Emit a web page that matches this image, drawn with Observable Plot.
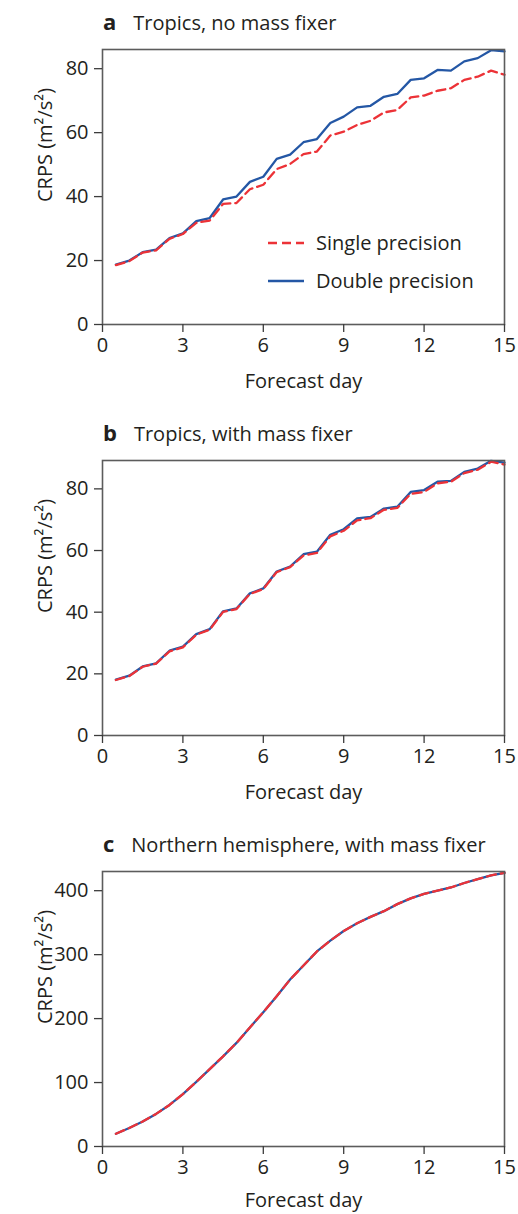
<!DOCTYPE html>
<html>
<head>
<meta charset="utf-8">
<script src="https://cdn.jsdelivr.net/npm/d3@7"></script>
<script src="https://cdn.jsdelivr.net/npm/@observablehq/plot@0.6"></script>
<style>
  body { margin: 0; background: #fff; font-family: "Open Sans", sans-serif; color: #231f20; }
  .panel { position: relative; width: 518px; height: 411px; overflow: visible; }
  .panel:last-child { height: 392px; }
  .title { position: absolute; left: 103px; top: 11px; font-size: 20px; line-height: 20px; white-space: nowrap; }
  .title b { font-size: 22px; margin-right: 17px; }
  .plot { position: absolute; left: 0; top: 36px; }
  .legend { position: absolute; left: 260px; top: 224px; }
</style>
</head>
<body>
<div id="chart"></div>
<script>
// Forecast lead times (days)
const days = [0.5, 1, 1.5, 2, 2.5, 3, 3.5, 4, 4.5, 5, 5.5, 6, 6.5, 7, 7.5, 8,
              8.5, 9, 9.5, 10, 10.5, 11, 11.5, 12, 12.5, 13, 13.5, 14, 14.5, 15];
const xTicks = [0, 3, 6, 9, 12, 15];

// a: Tropics, no mass fixer
const tropicsNoFixerSingle = [18.6, 19.8, 22.5, 23.2, 26.8, 28.3, 31.8, 32.5, 37.7, 38.0,
  42.3, 43.7, 48.6, 50.2, 53.3, 54.1, 59.1, 60.3, 62.4, 63.7,
  66.3, 67.1, 71.0, 71.6, 73.1, 73.9, 76.5, 77.5, 79.4, 78.1];
const tropicsNoFixerDouble = [18.75, 20.0, 22.6, 23.4, 27.0, 28.5, 32.3, 33.3, 39.1, 40.0,
  44.6, 46.2, 51.8, 53.1, 57.0, 58.0, 63.0, 65.0, 67.9, 68.4,
  71.2, 72.1, 76.5, 77.0, 79.6, 79.4, 82.3, 83.3, 85.8, 85.4];

// b: Tropics, with mass fixer
const tropicsFixerSingle = [18.0, 19.3, 22.3, 23.3, 27.3, 28.6, 32.7, 34.3, 40.1, 41.0,
  45.9, 47.5, 53.0, 54.6, 58.4, 59.2, 64.6, 66.4, 69.8, 70.5,
  73.2, 73.8, 78.4, 79.0, 81.8, 82.3, 85.1, 86.2, 88.8, 87.9];
const tropicsFixerDouble = [18.1, 19.4, 22.4, 23.4, 27.5, 28.8, 32.9, 34.5, 40.3, 41.2,
  46.1, 47.7, 53.2, 54.8, 58.8, 59.6, 65.1, 66.9, 70.4, 70.9,
  73.6, 74.2, 79.0, 79.6, 82.3, 82.6, 85.5, 86.6, 89.1, 88.5];

// c: Northern hemisphere, with mass fixer
const nhFixerSingle = [20, 29, 39, 51, 65, 82, 101, 121, 141, 162,
  186, 210, 235, 261, 283, 305, 322, 337, 349, 359,
  368, 379, 388, 395, 400, 405, 412, 418, 424, 428];
const nhFixerDouble = [20, 29, 39, 51, 65, 82, 101, 121, 141, 162,
  186, 210, 235, 261, 283, 305, 322, 337, 349, 359,
  368, 379, 388, 395, 400, 405, 412, 418, 424, 428];

const seriesNames = ["Single precision", "Double precision"];
const xLabel = "Forecast day";
const yLabel = "CRPS (m²/s²)";

const BLUE = "#2457a5";
const RED = "#ec3237";
const INK = "#231f20";
const FONT = "Open Sans, sans-serif";

const panels = [
  {letter: "a", title: "Tropics, no mass fixer", single: tropicsNoFixerSingle, double: tropicsNoFixerDouble,
   yMax: 86, yTicks: [0, 20, 40, 60, 80], legend: true, labelDy: 57},
  {letter: "b", title: "Tropics, with mass fixer", single: tropicsFixerSingle, double: tropicsFixerDouble,
   yMax: 89.2, yTicks: [0, 20, 40, 60, 80], legend: false, labelDy: 57},
  {letter: "c", title: "Northern hemisphere, with mass fixer", single: nhFixerSingle, double: nhFixerDouble,
   yMax: 430, yTicks: [0, 100, 200, 300, 400], legend: false, labelDy: 54}
];

const root = document.getElementById("chart");

for (const p of panels) {
  const div = document.createElement("div");
  div.className = "panel";

  const title = document.createElement("div");
  title.className = "title";
  title.innerHTML = `<b>${p.letter}</b>${p.title}`;
  div.appendChild(title);

  const rows = days.map((d, i) => ({day: d, single: p.single[i], double: p.double[i]}));

  const chart = Plot.plot({
    width: 518,
    height: 339,
    marginLeft: 102,
    marginRight: 14,
    marginTop: 13,
    marginBottom: 51,
    style: {fontFamily: FONT, fontSize: "20px", color: INK, background: "transparent", overflow: "visible"},
    x: {domain: [0, 15]},
    y: {domain: [0, p.yMax]},
    marks: [
      Plot.line(rows, {x: "day", y: "double", stroke: BLUE, strokeWidth: 2.3}),
      Plot.line(rows, {x: "day", y: "single", stroke: RED, strokeWidth: 2.3, strokeDasharray: "9,5"}),
      Plot.frame({stroke: "#5c5c5c", strokeWidth: 1.6}),
      Plot.axisX({ticks: xTicks, tickSize: 8, tickPadding: 5, label: null, stroke: "#3c3c3c",
                  strokeWidth: 1.3, fill: INK, fontSize: 20}),
      Plot.axisY({ticks: p.yTicks, tickSize: 8, tickPadding: 6, label: null, stroke: "#3c3c3c",
                  strokeWidth: 1.3, fill: INK, fontSize: 20}),
      Plot.text([xLabel], {text: d => d, frameAnchor: "bottom", dy: p.labelDy, lineAnchor: "middle",
                           fontSize: 20, fill: INK}),
      Plot.text([yLabel], {text: d => d, frameAnchor: "left", rotate: -90, dx: -57, dy: 15,
                           lineAnchor: "middle", fontSize: 20, fill: INK})
    ]
  });
  chart.classList.add("plot");
  div.appendChild(chart);

  if (p.legend) {
    const ns = "http://www.w3.org/2000/svg";
    const lg = document.createElementNS(ns, "svg");
    lg.setAttribute("class", "legend");
    lg.setAttribute("width", 250);
    lg.setAttribute("height", 80);
    const styles = [{stroke: RED, dash: "9,5"}, {stroke: BLUE, dash: null}];
    seriesNames.forEach((name, i) => {
      const cy = 19 + i * 38;
      const line = document.createElementNS(ns, "line");
      line.setAttribute("x1", 8); line.setAttribute("x2", 44);
      line.setAttribute("y1", cy); line.setAttribute("y2", cy);
      line.setAttribute("stroke", styles[i].stroke);
      line.setAttribute("stroke-width", 2.3);
      if (styles[i].dash) line.setAttribute("stroke-dasharray", styles[i].dash);
      lg.appendChild(line);
      const t = document.createElementNS(ns, "text");
      t.setAttribute("x", 56); t.setAttribute("y", cy);
      t.setAttribute("dy", "0.35em");
      t.setAttribute("font-family", FONT);
      t.setAttribute("font-size", 20);
      t.setAttribute("fill", INK);
      t.textContent = name;
      lg.appendChild(t);
    });
    div.appendChild(lg);
  }

  root.appendChild(div);
}
</script>
</body>
</html>
